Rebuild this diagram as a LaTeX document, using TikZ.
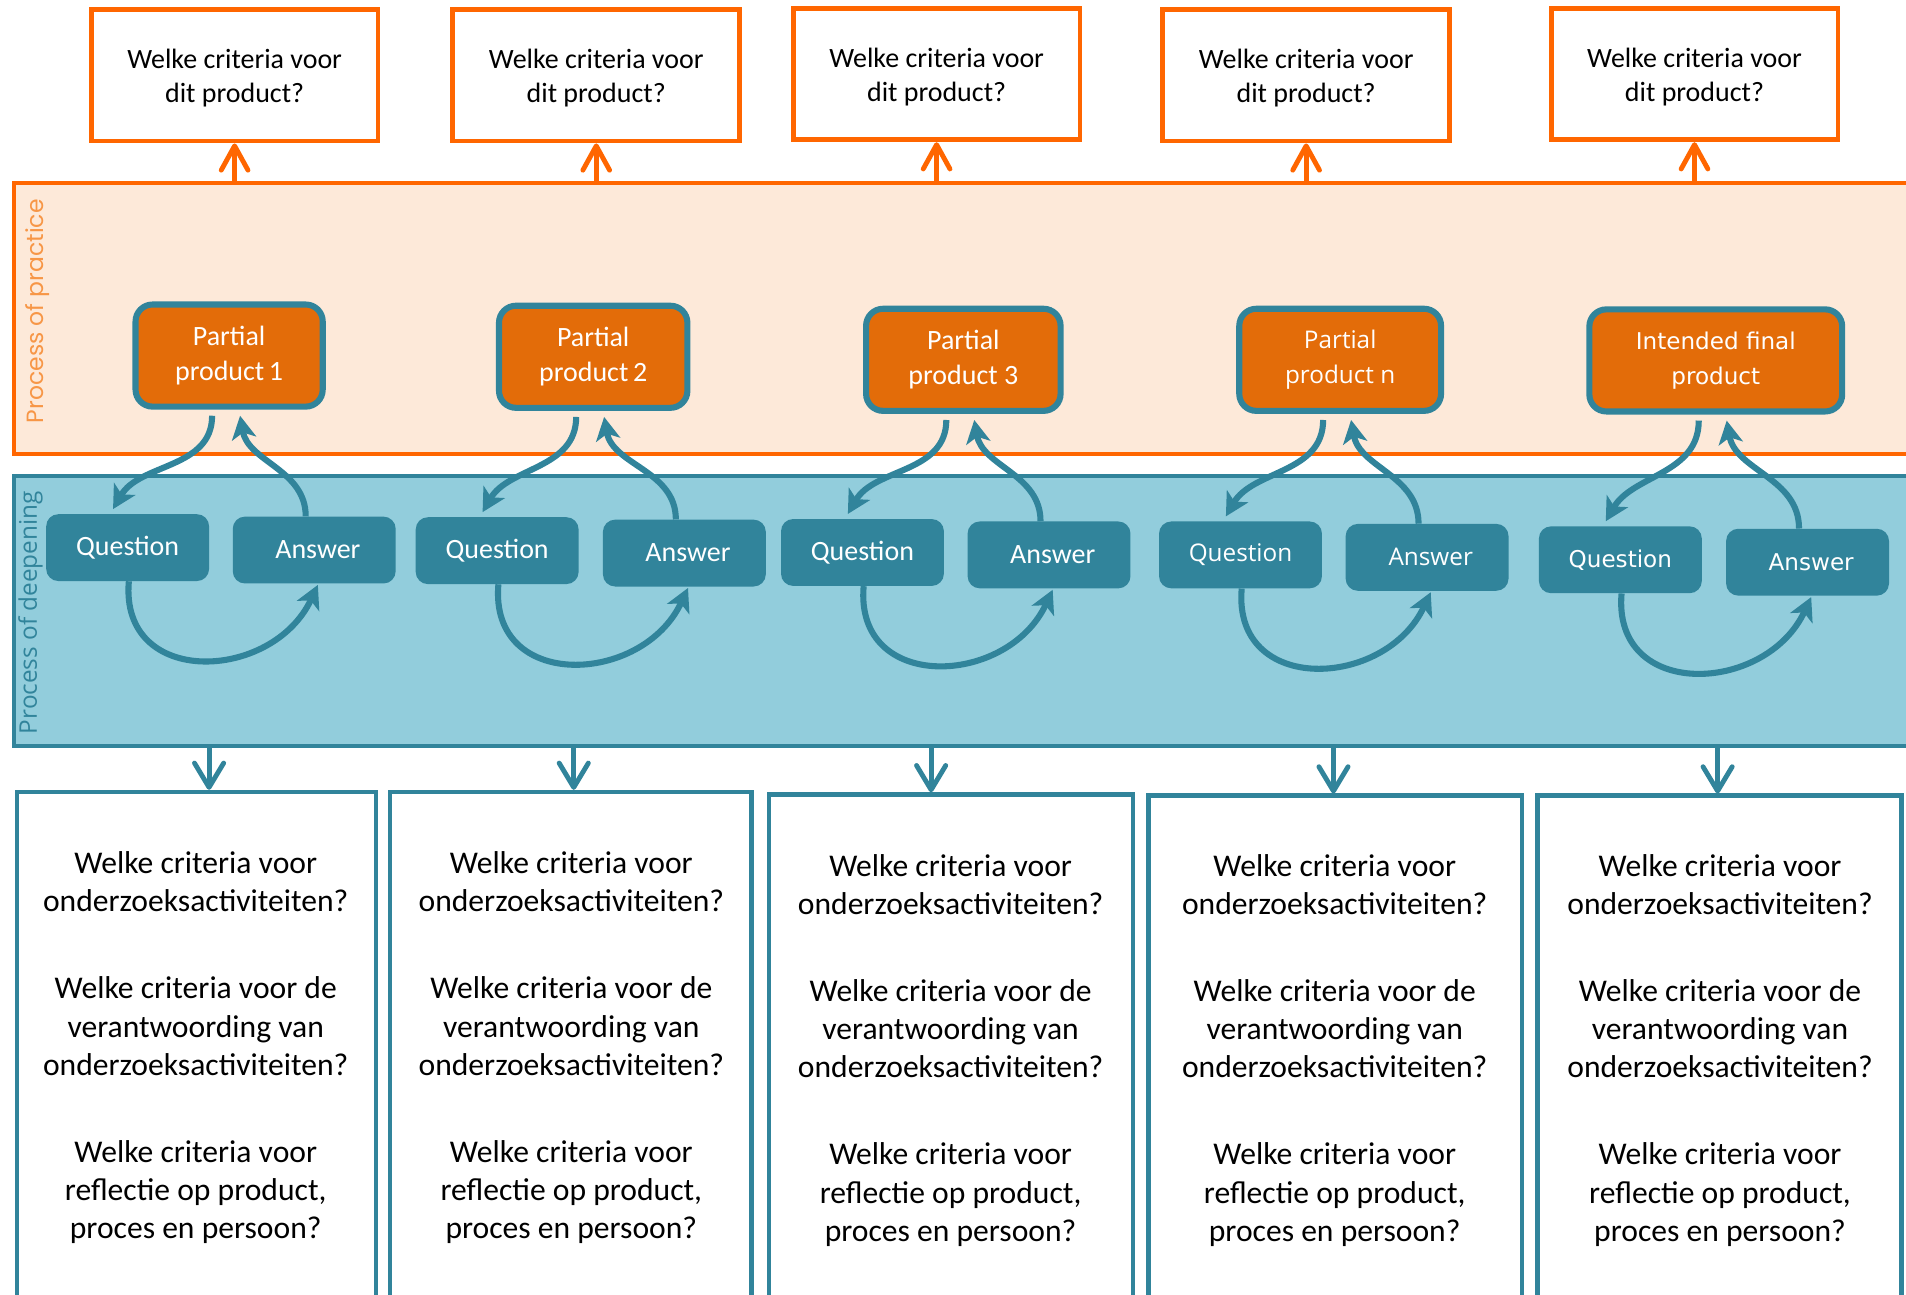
\documentclass[tikz,border=0pt]{standalone}
\usepackage{fontspec}
\usepackage{tikz}
\usetikzlibrary{arrows.meta}

\setmainfont{Carlito}
\newfontfamily\segoe{Open Sans}
\newfontfamily\verdana{DejaVu Sans}
\newfontfamily\gothic{Poppins}

\definecolor{practiceorange}{HTML}{FF6600}
\definecolor{practicefill}{HTML}{FDE9D9}
\definecolor{productfill}{HTML}{E36C09}
\definecolor{deepteal}{HTML}{31849B}
\definecolor{deepfill}{HTML}{92CDDC}
\definecolor{labelorange}{HTML}{F79646}

\tikzset{
  topbox/.style={draw=practiceorange, line width=4pt, fill=white, inner sep=0pt,
    minimum width=236pt, minimum height=108pt, align=center,
    font=\fontsize{23}{28}\selectfont},
  product/.style={draw=deepteal, line width=5pt, fill=productfill, rounded corners=14pt,
    text=white, inner sep=0pt, minimum height=84pt, align=center,
    font=\fontsize{23}{29}\selectfont},
  qa/.style={fill=deepteal, rounded corners=10pt, text=white, inner sep=0pt,
    minimum width=134pt, minimum height=55pt, font=\fontsize{23}{28}\selectfont},
  critbox/.style={draw=deepteal, line width=3.5pt, fill=white, anchor=north,
    inner sep=0pt, minimum height=440pt},
  crittext/.style={align=center, font=\fontsize{26}{31.5}\selectfont},
  loop/.style={deepteal, line width=5pt, -{Stealth[length=19pt,width=20pt,inset=5pt]}},
  uparrow/.style={practiceorange, line width=4pt, line cap=round,
    -{Straight Barb[length=20pt,width=22pt,round]}},
  downarrow/.style={deepteal, line width=4pt, line cap=round,
    -{Straight Barb[length=20pt,width=24pt,round]}}
}

\begin{document}
\begin{tikzpicture}[x=1pt, y=1pt]
  \useasboundingbox (0,0) rectangle (1568,-1065.3);

  % the two bands
  \node[draw=practiceorange, line width=3.5pt, fill=practicefill, inner sep=0pt,
    anchor=north west, minimum width=1600pt, minimum height=223pt] (practice) at (10,-149) {};
  \node[draw=deepteal, line width=3pt, fill=deepfill, inner sep=0pt,
    anchor=north west, minimum width=1600pt, minimum height=222pt] (deepening) at (10,-390) {};
  \node[rotate=90, text=labelorange, font=\gothic\fontsize{19.3}{20}\selectfont] (practicelabel) at (31,-256) {Process of practice};
  \node[rotate=90, text=deepteal, font=\segoe\fontsize{20}{20}\selectfont] (deeplabel) at (25,-504) {Process of deepening};

  % criteria for the products
  \node[topbox] (tb1) at (193,-62) {\rule{0pt}{21pt}Welke criteria voor\\dit product?};
  \node[topbox] (tb2) at (490.5,-62) {\rule{0pt}{21pt}Welke criteria voor\\dit product?};
  \node[topbox] (tb3) at (770.5,-61) {\rule{0pt}{21pt}Welke criteria voor\\dit product?};
  \node[topbox] (tb4) at (1074.5,-62) {\rule{0pt}{21pt}Welke criteria voor\\dit product?};
  \node[topbox] (tb5) at (1394,-61) {\rule{0pt}{21pt}Welke criteria voor\\dit product?};

  % products
  \node[product, minimum width=154pt] (p1) at (188.5,-292.5) {Partial\\product\,1};
  \node[product, minimum width=155pt] (p2) at (488,-293.5) {Partial\\product\,2};
  \node[product, minimum width=160pt] (p3) at (792.5,-296) {Partial\\product 3};
  \node[product, minimum width=166pt, font=\segoe\fontsize{20}{29}\selectfont] (p4) at (1102.5,-296) {Partial\\product n};
  \node[product, minimum width=208pt, font=\verdana\fontsize{19}{29}\selectfont] (p5) at (1411.5,-296.5) {Intended final\\product};

  % questions and answers
  \node[qa] (q1) at (105,-450.5) {Question};
  \node[qa] (a1) at (258.5,-452.5) {\hspace{6pt}Answer};
  \node[qa] (q2) at (409,-453) {Question};
  \node[qa] (a2) at (563,-455) {\hspace{6pt}Answer};
  \node[qa] (q3) at (709.5,-454.5) {Question};
  \node[qa] (a3) at (863,-456.5) {\hspace{6pt}Answer};
  \node[qa, font=\segoe\fontsize{20}{28}\selectfont] (q4) at (1020.5,-456.5) {Question};
  \node[qa, font=\segoe\fontsize{20}{28}\selectfont] (a4) at (1174,-458.5) {\hspace{6pt}Answer};
  \node[qa, font=\verdana\fontsize{19}{28}\selectfont] (q5) at (1333,-460.5) {Question};
  \node[qa, font=\verdana\fontsize{19}{28}\selectfont] (a5) at (1487,-462.5) {\hspace{6pt}Answer};

  % criteria for the research
  \node[critbox, minimum width=295.5pt] (bb1) at (161.5,-649.75) {};
  \node[critbox, minimum width=297.5pt] (bb2) at (469.5,-649.75) {};
  \node[critbox, minimum width=299.5pt] (bb3) at (782.5,-651.75) {};
  \node[critbox, minimum width=307.5pt] (bb4) at (1098.5,-652.75) {};
  \node[critbox, minimum width=299.5pt] (bb5) at (1414.5,-652.75) {};
  \foreach \i/\x/\y in {1/161/-862, 2/470/-862, 3/782/-864, 4/1098/-864, 5/1415/-864}
    \node[crittext] (bt\i) at (\x,\y) {Welke criteria voor\\onderzoeksactiviteiten?\\[40pt]
      Welke criteria voor de\\verantwoording van\\onderzoeksactiviteiten?\\[40pt]
      Welke criteria voor\\reflectie op product,\\proces en persoon?};

  % arrows between the bands and the boxes
  \foreach \i in {1,...,5}
    \draw[uparrow] (tb\i.south |- practice.north) -- (tb\i.south);
  \foreach \i/\x in {1/172, 2/472, 3/766, 4/1097, 5/1413}
    \draw[downarrow] (\x,0 |- deepening.south) -- (\x,0 |- bb\i.north);

  % question and answer loops
  \foreach \i in {1,...,5} {
    \draw[loop] ([shift={(-14pt,-5pt)}]p\i.south) to[out=-90, in=60] ([shift={(-12pt,4pt)}]q\i.north);
    \draw[loop] ([xshift=-7pt]a\i.north) to[out=90, in=-80] ([shift={(9pt,-5pt)}]p\i.south);
    \draw[loop] ([xshift=1pt]q\i.south) to[out=-95, in=-115, looseness=1.45] ([shift={(3pt,-1pt)}]a\i.south);
  }
\end{tikzpicture}
\end{document}
